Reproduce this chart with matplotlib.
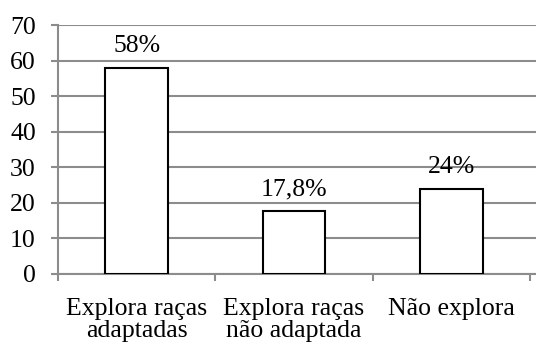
import matplotlib
matplotlib.use("Agg")
import matplotlib.pyplot as plt

categories = ["Explora raças\nadaptadas", "Explora raças\nnão adaptada", "Não explora"]
values = [58, 17.8, 24]
value_labels = ["58%", "17,8%", "24%"]
y_ticks = [0, 10, 20, 30, 40, 50, 60, 70]

plt.rcParams["font.family"] = ["Liberation Serif", "DejaVu Serif"]
FS = 18.5

fig = plt.figure(figsize=(5.36, 3.47), dpi=100)
ax = fig.add_axes([58 / 536, 1 - 274 / 347, 478 / 536, 249 / 347])

grid_color = "#8c8c8c"
x = list(range(len(categories)))
ax.bar(x, values, width=0.4, color="white", edgecolor="black", linewidth=1.5, zorder=3)

for xi, v, lab in zip(x, values, value_labels):
    ax.annotate(lab, (xi, v), xytext=(0, 11), textcoords="offset points",
                ha="center", va="baseline", fontsize=FS, zorder=4)

ax.set_ylim(0, 70)
ax.set_xlim(-0.5, 2.5 + 6 / 157)
ax.set_yticks(y_ticks)
ax.set_yticklabels([str(t) for t in y_ticks], fontsize=FS)
ax.set_xticks(x)
ax.set_xticklabels(categories, fontsize=FS, linespacing=1.03)
ax.tick_params(axis="x", length=0, pad=17)
ax.tick_params(axis="y", length=5, width=1.5, color=grid_color, pad=11)

# category boundary ticks on the x axis
ax.set_xticks([-0.5, 0.5, 1.5, 2.5], minor=True)
ax.tick_params(axis="x", which="minor", length=5, width=1.5, color=grid_color)

ax.yaxis.grid(True, color=grid_color, linewidth=1.5, zorder=0)
ax.set_axisbelow(True)
for side in ["top", "right"]:
    ax.spines[side].set_visible(False)
for side in ["left", "bottom"]:
    ax.spines[side].set_color(grid_color)
    ax.spines[side].set_linewidth(1.5)

fig.savefig("out.png", dpi=100)
